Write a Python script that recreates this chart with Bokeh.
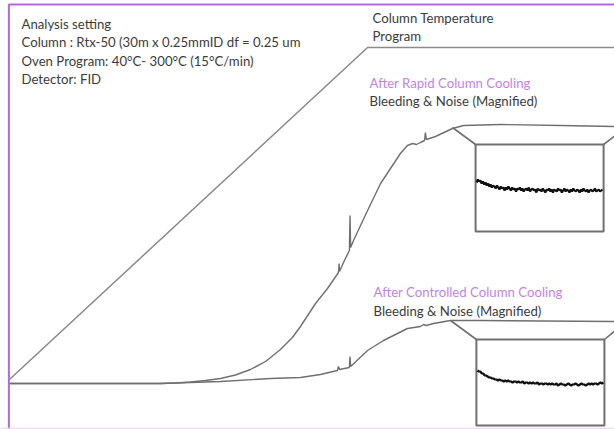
from bokeh.plotting import figure
from bokeh.models import Range1d, Label, BoxAnnotation, Span
from bokeh.embed import file_html
from bokeh.resources import INLINE

# ---------------- data ----------------
# Column temperature program (time in min, temperature in degC)
temp_time = [0.0, 17.34, 29.3]
temp_degc = [40, 300, 300]

# Chromatogram after rapid column cooling (time min, response a.u.)
rapid_time = [0.0, 4.41, 7.31, 8.04, 8.77, 9.49, 10.22, 10.94, 11.67, 12.40, 13.12, 13.70,
              14.09, 14.82, 15.40, 15.93, 15.96, 15.98, 16.22, 16.46, 16.49, 16.52, 16.66,
              17.34, 17.97, 18.93, 19.27, 19.52, 19.71, 19.90, 20.10, 20.14, 20.19, 20.63,
              21.45, 21.99, 23.78, 26.68, 29.30]
rapid_resp = [0, 0, 0, 0.5, 1.5, 3, 5, 8.5, 14, 22, 34, 46,
              57, 80, 95, 111, 120, 112, 123, 133, 168, 136, 143,
              173, 200, 230, 238, 240, 239, 241, 243, 251, 244, 247,
              255, 258, 259, 258, 257]

# Chromatogram after controlled column cooling
ctrl_time = [0.0, 4.41, 7.31, 10.22, 12.64, 14.09, 15.06, 15.88, 15.93, 15.98, 16.46,
             16.49, 16.52, 17.34, 18.11, 19.27, 19.90, 20.05, 20.19, 20.53, 21.36, 22.81, 29.30]
ctrl_resp = [0, 0, 0, 2, 5, 6, 9, 13, 17, 14, 16,
             27, 17, 33, 43, 55, 57, 59, 58, 60, 63, 63, 62]

# Magnified bleeding & noise traces (arbitrary units)
rapid_mag = [9, 12, 10, 11, 8, 10, 7, 9, 6, 8, 5, 7, 4, 6, 5, 3, 6, 4, 2, 5, 3, 4, 1, 4, 2,
             5, 3, 1, 4, 2, 3, 0, 3, 2, 4, 1, 3, 0, 2, 3, 1, 4, 0, 2, 3, 1, 2, -1, 3, 1, 2,
             0, 3, 1, -1, 2, 1, 3, 0, 2, -1, 2, 1, 0, 3, 1, 2, -1, 1, 3, 0, 2, 1, -1, 2, 0,
             3, 1, 0, 2, 1, -1, 2, 0, 3, 1, 0, 2, -1, 1, 2, 0, 1, 3, 0, 1, 2, 0, 1, 2]
ctrl_mag = [14, 13, 13, 11, 11, 9, 9, 8, 7, 7, 6, 6, 5, 5, 4, 5, 4, 4, 3, 4, 3, 4, 3, 3, 2,
            3, 3, 2, 3, 2, 2, 3, 1, 2, 2, 1, 2, 1, 2, 1, 1, 2, 0, 1, 1, 0, 1, 1, 0, 1, 0, 1,
            0, 0, 1, -1, 0, 1, 0, 0, -1, 0, 1, 0, -1, 0, 0, 1, 0, -1, 0, 1, 0, 0, -1, 0, 1,
            0, 1, 0, 1, 1, 0, 1, 2, 1, 2]

info_lines = ["Analysis setting",
              "Column : Rtx-50 (30m x 0.25mmID df = 0.25 um",
              "Oven Program: 40\u00b0C- 300\u00b0C (15\u00b0C/min)",
              "Detector: FID"]

# ---------------- layout ----------------
W, H = 614, 429
PX_PER_MIN = 20.65
X0 = 9
p = figure(width=W, height=H, output_backend="svg", toolbar_location=None,
           x_range=Range1d(-X0 / PX_PER_MIN, (W - X0) / PX_PER_MIN),
           y_range=Range1d(-46, 383),
           x_axis_location=None, y_axis_location=None, min_border=0)
p.extra_y_ranges = {"temp": Range1d(40 - 50 / 1.277, 40 + 379 / 1.277)}
p.grid.visible = False
p.outline_line_color = None
p.background_fill_color = "white"
p.border_fill_color = "white"

GRAY = "#6f6f6f"
FONT = "Lato"
PURPLE_TXT = "#c383e6"
TXT = "#3c3c3c"

# frame
p.add_layout(BoxAnnotation(left=-0.03, right=60, top=379, bottom=-200,
                           fill_alpha=0, line_color="#b565ea", line_alpha=1, line_width=2))
p.add_layout(Span(location=-45, dimension="width", line_color="#f2d6f7", line_width=1.5))

# temperature program
p.line(temp_time, temp_degc, y_range_name="temp", line_color="#8a8a8a", line_width=1.5)

# chromatograms
p.line(rapid_time, rapid_resp, line_color=GRAY, line_width=1.4)
p.line(ctrl_time, ctrl_resp, line_color=GRAY, line_width=1.4)


def inset(src_t, src_r, box_l, box_r, box_t, box_b, right_end, mag, mag_base):
    # connectors
    p.line([src_t, box_l], [src_r, box_t], line_color=GRAY, line_width=1.6)
    p.line([box_r, 29.4], [box_t, right_end], line_color=GRAY, line_width=1.6)
    p.quad(left=[box_l], right=[box_r], top=[box_t], bottom=[box_b],
           fill_color="white", line_color=GRAY, line_width=2)
    n = len(mag)
    xs = [box_l + 0.05 + (box_r - box_l - 0.1) * i / (n - 1) for i in range(n)]
    ys = [mag_base + v for v in mag]
    p.line(xs, ys, line_color="#111111", line_width=2.2)


inset(21.45, 256, 22.57, 28.77, 239, 152, 249, rapid_mag, 192)
inset(21.36, 63, 22.61, 28.81, 44, -42, 54, ctrl_mag, -1)

# texts
def label(txt, x, y_from_top, color=TXT, size="13.2px"):
    p.add_layout(Label(x=x, y=H - y_from_top, x_units="screen", y_units="screen", text=txt,
                       text_font=FONT, text_font_size=size, text_color=color,
                       text_baseline="middle"))

for i, line in enumerate(info_lines):
    label(line, 21, 23.5 + i * 18.3)

label("Column Temperature", 372, 17)
label("Program", 372, 35)
label("After Rapid Column Cooling", 369, 82, PURPLE_TXT)
label("Bleeding & Noise (Magnified)", 369, 100)
label("After Controlled Column Cooling", 373, 291, PURPLE_TXT)
label("Bleeding & Noise (Magnified)", 373, 310)

open("out.html", "w").write(file_html(p, INLINE))
